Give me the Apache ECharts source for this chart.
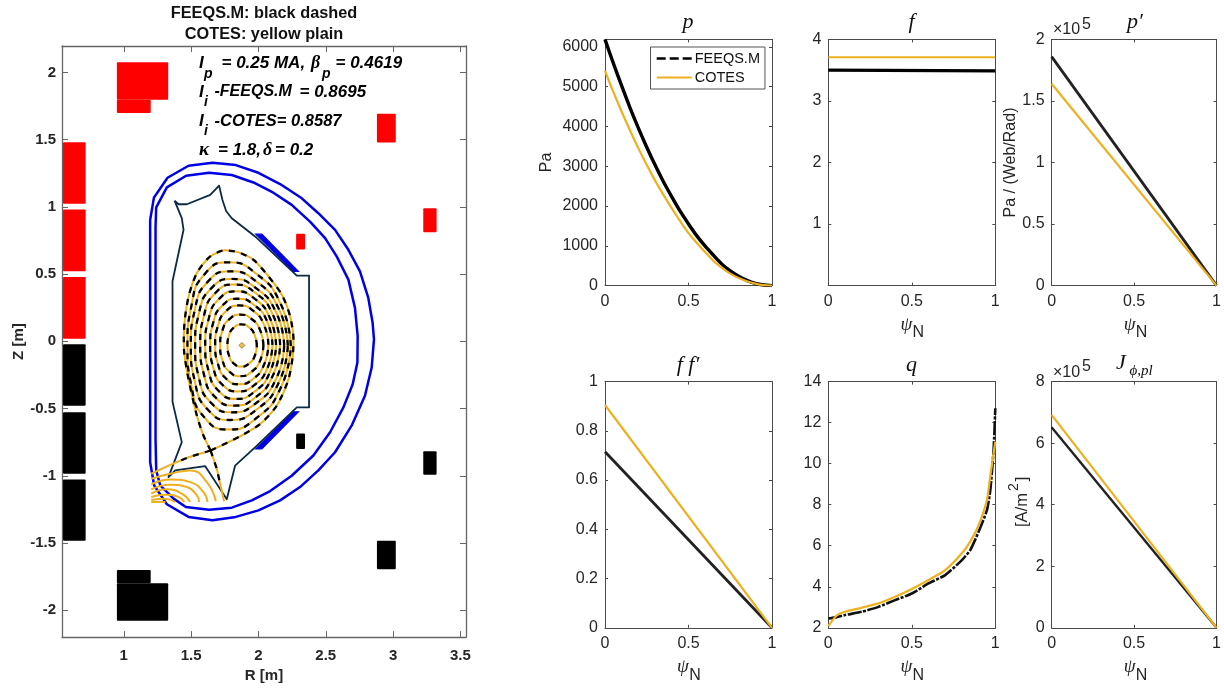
<!DOCTYPE html>
<html><head><meta charset="utf-8">
<style>html,body{margin:0;padding:0;background:#fff}#c{width:1224px;height:688px}</style>
<script src="https://cdn.jsdelivr.net/npm/echarts@6/dist/echarts.min.js"></script>
</head><body><div id="c"></div>
<script>
// ---------- left panel data (R [m], Z [m]) ----------
const redCoils = [[.549,.717,1.024,1.481],[.549,.717,.521,.980],[.549,.717,.020,.479],[.949,1.33,1.797,2.076],[.949,1.2,1.698,1.797],[2.88,3.02,1.479,1.693],[3.224,3.323,.812,.99],[2.28,2.346,.684,.80]];
const blackCoils = [[.549,.717,-.479,-.022],[.549,.717,-.985,-.528],[.549,.717,-1.484,-1.027],[.949,1.33,-2.079,-1.80],[.949,1.2,-1.80,-1.70],[2.88,3.02,-1.696,-1.484],[3.224,3.323,-.993,-.817],[2.28,2.346,-.80,-.686]];
const plates = [[1.98,.797,2.025,.797,2.297,.521,2.26,.521],[1.98,-.80,2.025,-.80,2.297,-.524,2.26,-.524]];
const wallOuter = [[1.196,.903],[1.224,1.069],[1.325,1.217],[1.481,1.306],[1.659,1.328],[1.832,1.311],[2.0,1.254],[2.161,1.17],[2.322,1.064],[2.445,.953],[2.569,.829],[2.668,.681],[2.754,.521],[2.816,.323],[2.848,.138],[2.858,.015],[2.841,-.195],[2.791,-.405],[2.692,-.627],[2.569,-.825],[2.445,-.96],[2.309,-1.084],[2.161,-1.183],[2.0,-1.257],[1.832,-1.306],[1.659,-1.331],[1.481,-1.306],[1.32,-1.212],[1.226,-1.072],[1.196,-.899],[1.196,.903]];
const wallInner = [[1.236,.854],[1.241,.997],[1.32,1.145],[1.463,1.232],[1.634,1.254],[1.802,1.237],[1.963,1.182],[2.111,1.106],[2.247,1.015],[2.383,.891],[2.495,.768],[2.581,.632],[2.668,.459],[2.717,.249],[2.737,.039],[2.735,-.158],[2.70,-.319],[2.631,-.491],[2.532,-.676],[2.408,-.849],[2.247,-1.0],[2.087,-1.114],[1.951,-1.183],[1.802,-1.237],[1.634,-1.252],[1.461,-1.232],[1.37,-1.17],[1.271,-1.072],[1.241,-.96],[1.236,-.726],[1.236,.854]];
const vessel = [[1.377,1.047],[1.407,1.02],[1.469,1.02],[1.642,1.089],[1.708,1.158],[1.733,1.051],[1.760,.97],[1.802,.916],[1.985,.772],[2.285,.489],[2.376,.489],[2.376,-.491],[2.285,-.491],[1.985,-.78],[1.827,-.924],[1.765,-1.175],[1.604,-.928],[1.382,-.96],[1.332,-1.01],[1.431,-.75],[1.362,-.449],[1.362,.447],[1.444,.83],[1.431,.916],[1.377,1.047]];
const ring1 = [[1.988,-.031],[1.972,.048],[1.929,.105],[1.874,.126],[1.820,.105],[1.783,.048],[1.770,-.031],[1.783,-.110],[1.820,-.167],[1.874,-.188],[1.929,-.167],[1.972,-.110],[1.988,-.031]];
const ring2 = [[2.037,-.03],[2.012,.085],[1.947,.168],[1.864,.199],[1.787,.168],[1.734,.085],[1.716,-.03],[1.734,-.145],[1.787,-.228],[1.864,-.259],[1.947,-.228],[2.012,-.145],[2.037,-.03]];
const ring3 = [[2.074,-.026],[2.042,.121],[1.960,.228],[1.857,.267],[1.763,.228],[1.701,.121],[1.679,-.026],[1.701,-.173],[1.763,-.280],[1.857,-.319],[1.960,-.280],[2.042,-.173],[2.074,-.026]];
const ring4 = [[2.104,-.028],[2.066,.145],[1.967,.271],[1.845,.317],[1.737,.271],[1.666,.145],[1.642,-.028],[1.666,-.201],[1.737,-.327],[1.845,-.373],[1.967,-.327],[2.066,-.201],[2.104,-.028]];
const ring5 = [[2.131,-.028],[2.086,.172],[1.971,.318],[1.831,.372],[1.710,.318],[1.632,.172],[1.605,-.028],[1.632,-.228],[1.710,-.374],[1.831,-.428],[1.971,-.374],[2.086,-.228],[2.131,-.028]];
const ring6 = [[2.161,-.028],[2.108,.197],[1.976,.362],[1.817,.422],[1.682,.362],[1.597,.197],[1.568,-.028],[1.597,-.253],[1.682,-.418],[1.817,-.478],[1.976,-.418],[2.108,-.253],[2.161,-.028]];
const ring7 = [[2.191,-.032],[2.131,.216],[1.979,.398],[1.801,.464],[1.653,.398],[1.560,.216],[1.530,-.032],[1.560,-.28],[1.653,-.462],[1.801,-.528],[1.979,-.462],[2.131,-.28],[2.191,-.032]];
const ring8 = [[2.218,-.032],[2.150,.245],[1.982,.447],[1.786,.521],[1.627,.447],[1.530,.245],[1.498,-.032],[1.530,-.309],[1.627,-.511],[1.786,-.585],[1.982,-.511],[2.150,-.309],[2.218,-.032]];
const ring9 = [[2.240,-.034],[2.166,.277],[1.982,.505],[1.773,.588],[1.605,.505],[1.505,.277],[1.473,-.034],[1.505,-.345],[1.605,-.573],[1.773,-.656],[1.982,-.573],[2.166,-.345],[2.240,-.034]];
const separatrix = [[1.645,-.812],[1.864,-.706],[2.013,-.615],[2.136,-.479],[2.223,-.282],[2.255,-.109],[2.260,.015],[2.235,.188],[2.173,.348],[2.064,.496],[1.963,.607],[1.852,.662],[1.753,.677],[1.64,.63],[1.544,.511],[1.485,.348],[1.455,.178],[1.446,.03],[1.449,-.084],[1.481,-.282],[1.543,-.553],[1.592,-.701],[1.645,-.812]];
const legLeft = [[1.645,-.812],[1.481,-.862],[1.345,-.919],[1.204,-.985]];
const legRight = [[1.645,-.812],[1.691,-.948],[1.745,-1.19]];
const legLeftDashed = [[1.645,-.812],[1.481,-.862],[1.40,-.895]];
const legRightDashed = [[1.645,-.812],[1.691,-.948],[1.72,-1.08]];
const arc1 = [[1.204,-1.022],[1.345,-.985],[1.493,-.96],[1.617,-1.047],[1.684,-1.19]];
const arc2 = [[1.204,-1.064],[1.345,-1.027],[1.493,-1.047],[1.592,-1.121],[1.622,-1.195]];
const arc3 = [[1.204,-1.101],[1.345,-1.067],[1.469,-1.084],[1.543,-1.146],[1.560,-1.195]];
const arc4 = [[1.204,-1.133],[1.320,-1.101],[1.431,-1.133],[1.493,-1.195]];
const arc5 = [[1.204,-1.158],[1.308,-1.141],[1.407,-1.158],[1.449,-1.195]];
const arc6 = [[1.204,-1.18],[1.308,-1.17],[1.382,-1.195]];
const arc7 = [[1.204,-1.195],[1.31,-1.195]];
const magneticAxis = [[1.877,-.03]];

// ---------- profile data ----------
const psi = [0,.05,.1,.15,.2,.25,.3,.35,.4,.45,.5,.55,.6,.65,.7,.75,.8,.85,.9,.95,1];
const pFeeqs = [6190,5590,5020,4470,3960,3480,3030,2610,2230,1870,1550,1250,990,760,540,370,235,130,55,15,0];
const pCotes = [5400,4870,4370,3900,3450,3030,2640,2280,1940,1620,1320,1070,840,620,445,300,190,110,50,12,0];
const psiEnds = [0,1];
const fFeeqs = [3.50,3.49];
const fCotes = [3.71,3.71];
const dpFeeqs = [1.86,0];
const dpCotes = [1.64,0];
const ffFeeqs = [.715,0];
const ffCotes = [.905,0];
const jFeeqs = [6.52,0];
const jCotes = [6.92,0];
const psiQFeeqs = [0,.05,.1,.2,.3,.4,.5,.6,.7,.8,.85,.9,.95,.97,.99,1];
const qFeeqs = [2.45,2.52,2.62,2.78,3.02,3.35,3.67,4.16,4.57,5.3,5.79,6.68,7.74,8.7,10.7,12.7];
const psiQCotes = [0,.05,.1,.2,.3,.4,.5,.6,.7,.8,.85,.9,.95,.97,1];
const qCotes = [2.08,2.6,2.78,2.98,3.19,3.51,3.89,4.33,4.81,5.63,6.2,7.0,8.23,9.4,11.07];

const xTicksLeft = [1,1.5,2,2.5,3,3.5];
const yTicksLeft = [-2,-1.5,-1,-.5,0,.5,1,1.5,2];
const psiTicks = [0,.5,1];
const pTicks = [0,1000,2000,3000,4000,5000,6000];
const fTicks = [1,2,3,4];
const dpTicks = [0,.5,1,1.5,2];
const ffTicks = [0,.2,.4,.6,.8,1];
const qTicks = [2,4,6,8,10,12,14];
const jTicks = [0,2,4,6,8];

const BLACK='#000', YEL='#EDB120', BLUE='#0000e6', NAVY='#0b2b45', INK='#262626', AXC='#4a4a4a';
const SANS='"Liberation Sans",Arial,sans-serif', SERIF='"Liberation Serif",serif';

const grids=[], xAxes=[], yAxes=[], series=[], graphics=[];
function addPanel(o){
  const i=grids.length; grids.push({left:o.l,top:o.t,width:o.w,height:o.h,containLabel:false});
  const lab={fontFamily:SANS,fontSize:o.fs,fontWeight:o.fw,color:INK};
  const col=o.ac||AXC;
  const line={show:true,onZero:false,lineStyle:{color:col,width:o.lw||1}};
  const tick=(vals)=>({show:true,inside:true,length:o.tl,customValues:vals,lineStyle:{color:col,width:1}});
  xAxes.push({type:'value',gridIndex:i,position:'bottom',min:o.xmin,max:o.xmax,splitLine:{show:false},axisLine:line,axisTick:tick(o.xt),
    axisLabel:{...lab,margin:o.xm,customValues:o.xt,formatter:v=>String(v)},name:o.xname||'',nameLocation:'middle',nameGap:o.xgap||20,nameTextStyle:{...lab,fontSize:o.nfs||o.fs}});
  xAxes.push({type:'value',gridIndex:i,position:'top',min:o.xmin,max:o.xmax,splitLine:{show:false},axisLine:line,axisTick:tick(o.xt),axisLabel:{show:false}});
  yAxes.push({type:'value',gridIndex:i,position:'left',min:o.ymin,max:o.ymax,splitLine:{show:false},axisLine:line,axisTick:tick(o.yt),
    axisLabel:{...lab,margin:o.ym,customValues:o.yt,formatter:v=>String(v)},name:o.yname||'',nameLocation:'middle',nameGap:o.ygap||30,nameRotate:90,nameTextStyle:{...lab,fontSize:o.nfs||o.fs}});
  yAxes.push({type:'value',gridIndex:i,position:'right',min:o.ymin,max:o.ymax,splitLine:{show:false},axisLine:line,axisTick:tick(o.yt),axisLabel:{show:false}});
  return i*2;
}
function txt(text,x,y,size,opt){opt=opt||{};
  graphics.push({type:'text',x,y,z:50,rotation:opt.rot||0,style:{text,fill:opt.fill||INK,font:(opt.style||'')+' '+size+'px '+(opt.fam||SANS),textAlign:opt.align||'left',textVerticalAlign:'middle',textBaseline:'middle'}});
}

// ---- left panel ----
const L = addPanel({l:62,t:46,w:404,h:593,xmin:.5414,xmax:3.5414,ymin:-2.2,ymax:2.197,xt:xTicksLeft,yt:yTicksLeft,fs:15,fw:'bold',tl:6,xm:11,ym:6,xname:'R [m]',xgap:30,yname:'Z [m]',ygap:35,nfs:15,lw:1.3,ac:'#666'});
function ln(ax,data,color,width,type,smooth,name){
  const s={type:'line',xAxisIndex:ax,yAxisIndex:ax,data,showSymbol:false,symbol:'none',smooth:smooth?smooth:false,silent:true,animation:false,
    lineStyle:{color,width,type:type||'solid',cap:'butt',join:'round'},itemStyle:{color}};
  if(name) s.name=name;
  series.push(s); return s;
}
function coilSeries(rows,color){
  series.push({type:'custom',xAxisIndex:L,yAxisIndex:L,data:rows,silent:true,animation:false,clip:true,
    renderItem:(p,api)=>{
      const a=api.coord([api.value(0),api.value(3)]), b=api.coord([api.value(1),api.value(2)]);
      return {type:'rect',shape:{x:a[0],y:a[1],width:b[0]-a[0],height:b[1]-a[1],r:1},style:{fill:color}};
    }});
}
coilSeries(redCoils,'#ff0000');
coilSeries(blackCoils,'#000000');
series.push({type:'custom',xAxisIndex:L,yAxisIndex:L,data:plates,silent:true,animation:false,
  dimensions:['a','b','c','d','e','f','g','h'],encode:{x:[0,2,4,6],y:[1,3,5,7]},
  renderItem:(p,api)=>{const pts=[0,2,4,6].map(k=>api.coord([api.value(k),api.value(k+1)]));
    return {type:'polygon',shape:{points:pts},style:{fill:BLUE,stroke:BLUE,lineWidth:1.2}};}});
ln(L,wallOuter,BLUE,2.5,'solid');
ln(L,wallInner,BLUE,2.5,'solid');
ln(L,vessel,NAVY,1.8,'solid');
const rings=[ring1,ring2,ring3,ring4,ring5,ring6,ring7,ring8,ring9];
rings.forEach(r=>ln(L,r,YEL,2,'solid',.55));
ln(L,separatrix,YEL,2,'solid',.25);
[legLeft,legRight].forEach(a=>ln(L,a,YEL,2));
[arc1,arc2,arc3,arc4,arc5,arc6].forEach(a=>ln(L,a,YEL,2,'solid',.5));
ln(L,arc7,YEL,2);
rings.forEach(r=>ln(L,r,BLACK,2.3,[6,6.5],.55));
ln(L,separatrix,BLACK,2.3,[6,6.5],.25);
[legLeftDashed,legRightDashed].forEach(a=>ln(L,a,BLACK,2.3,[6,6.5]));
series.push({type:'scatter',xAxisIndex:L,yAxisIndex:L,data:magneticAxis,symbol:'diamond',symbolSize:6,silent:true,animation:false,itemStyle:{color:YEL,borderColor:'#7a5a10',borderWidth:.8}});

// ---- right panels ----
const W=167,H=246.2, colX=[605,828.3,1051.6], rowY=[39.4,381.6];
const pair=(xs,ys)=>ys.map((y,k)=>[xs[k],y]);
const P = addPanel({l:colX[0],t:rowY[0],w:W,h:H,xmin:0,xmax:1,ymin:0,ymax:6190,xt:psiTicks,yt:pTicks,fs:16,fw:'normal',tl:3,xm:8,ym:7,yname:'Pa',ygap:50});
ln(P,pair(psi,pFeeqs),BLACK,3.4,'solid',.3,'FEEQS.M');
ln(P,pair(psi,pCotes),YEL,2.2,'solid',.3,'COTES');
const F = addPanel({l:colX[1],t:rowY[0],w:W,h:H,xmin:0,xmax:1,ymin:0,ymax:4,xt:psiTicks,yt:fTicks,fs:16,fw:'normal',tl:3,xm:8,ym:7});
ln(F,pair(psiEnds,fFeeqs),BLACK,3.2); ln(F,pair(psiEnds,fCotes),YEL,2.2);
const D = addPanel({l:colX[2],t:rowY[0],w:W,h:H,xmin:0,xmax:1,ymin:0,ymax:2,xt:psiTicks,yt:dpTicks,fs:16,fw:'normal',tl:3,xm:8,ym:7,yname:'Pa / (Web/Rad)',ygap:26});
ln(D,pair(psiEnds,dpFeeqs),'#222',2.8); ln(D,pair(psiEnds,dpCotes),YEL,2.2);
const FF = addPanel({l:colX[0],t:rowY[1],w:W,h:H,xmin:0,xmax:1,ymin:0,ymax:1,xt:psiTicks,yt:ffTicks,fs:16,fw:'normal',tl:3,xm:8,ym:7});
ln(FF,pair(psiEnds,ffFeeqs),'#222',2.8); ln(FF,pair(psiEnds,ffCotes),YEL,2.2);
const Q = addPanel({l:colX[1],t:rowY[1],w:W,h:H,xmin:0,xmax:1,ymin:2,ymax:14,xt:psiTicks,yt:qTicks,fs:16,fw:'normal',tl:3,xm:8,ym:7});
ln(Q,pair(psiQFeeqs,qFeeqs),'#111',2.6,[14,1.5,3,1.5],.2); ln(Q,pair(psiQCotes,qCotes),YEL,2.2,'solid',.2);
const J = addPanel({l:colX[2],t:rowY[1],w:W,h:H,xmin:0,xmax:1,ymin:0,ymax:8,xt:psiTicks,yt:jTicks,fs:16,fw:'normal',tl:3,xm:8,ym:7});
ln(J,pair(psiEnds,jFeeqs),'#222',2.4); ln(J,pair(psiEnds,jCotes),YEL,2.2);

// ---- texts ----
const TX=BLACK;
txt('FEEQS.M: black dashed',264,13.5,16.3,{style:'bold',align:'center',fill:'#111'});
txt('COTES: yellow plain',264,34.5,16.3,{style:'bold',align:'center',fill:'#111'});
const A='italic bold', AS=16.5, AV=17, SUB=14;
txt('I',199,63,AV,{style:A,fill:TX}); txt('p',204,74,SUB,{style:A,fill:TX});
txt('= 0.25 MA,',221.5,63,AV,{style:A,fill:TX});
txt('β',311,63,18,{style:'italic bold',fam:SERIF,fill:TX}); txt('p',322,74,SUB,{style:A,fill:TX});
txt('= 0.4619',335.5,63,AV,{style:A,fill:TX});
txt('I',199,92,AV,{style:A,fill:TX}); txt('i',204,102,SUB,{style:A,fill:TX});
txt('-FEEQS.M',214.5,92,16,{style:A,fill:TX}); txt('= 0.8695',299.5,92,AV,{style:A,fill:TX});
txt('I',199,121,AV,{style:A,fill:TX}); txt('i',204,131,SUB,{style:A,fill:TX});
txt('-COTES= 0.8587',214.5,121,AS,{style:A,fill:TX});
txt('κ',199,150.5,19,{style:'italic bold',fam:SERIF,fill:TX});
txt('= 1.8,',218,150.5,AV,{style:A,fill:TX});
txt('δ',263,150.5,18,{style:'italic bold',fam:SERIF,fill:TX});
txt('= 0.2',275,150.5,AV,{style:A,fill:TX});
const TS=22;
const titleOpt={style:'italic',fam:SERIF,align:'center',fill:'#111'};
txt('p',688,22,TS,titleOpt); txt('f',911.5,22,TS,titleOpt); txt('p′',1135,22,TS,titleOpt);
txt('f f′',688,365,TS,titleOpt); txt('q',911.5,365,TS,titleOpt);
txt('J',1121,363,TS,titleOpt); txt('ϕ,pl',1141,371,15,titleOpt);
[[colX[1],rowY[0]],[colX[2],rowY[0]],[colX[0],rowY[1]],[colX[1],rowY[1]],[colX[2],rowY[1]]].forEach(([cx,ry])=>{
  txt('ψ',cx+78,ry+285.5,19,{style:'italic',fam:SERIF,align:'center'});
  txt('N',cx+90,ry+293.5,16,{align:'center'});
});
txt('×10',1053,rowY[0]-9.5,16); txt('5',1082,rowY[0]-15,16);
txt('×10',1053,rowY[1]-9.5,16); txt('5',1082,rowY[1]-15,16);
const R90=Math.PI/2;
txt('[A/m',1022,510,16.5,{rot:R90,align:'center'});
txt('2',1014,487,14,{rot:R90,align:'center'});
txt(']',1022,479,16.5,{rot:R90,align:'center'});

const chart=echarts.init(document.getElementById('c'),null,{renderer:'canvas'});
chart.setOption({
  animation:false,backgroundColor:'#fff',
  grid:grids,xAxis:xAxes,yAxis:yAxes,series,graphic:graphics,
  legend:{show:true,left:650.5,top:47,selectedMode:false,orient:'vertical',itemWidth:35,itemHeight:10,itemGap:4,padding:[4,5,4,5],
    backgroundColor:'#fff',borderColor:'#555',borderWidth:1,
    textStyle:{fontFamily:SANS,fontSize:14.5,color:'#111',padding:[0,0,0,-2]},
    data:[{name:'FEEQS.M',itemStyle:{opacity:0},lineStyle:{type:[9,4],width:2.4,color:'#000',opacity:1}},{name:'COTES',itemStyle:{opacity:0},lineStyle:{color:YEL,width:2.2,opacity:1}}]}
});
</script></body></html>
